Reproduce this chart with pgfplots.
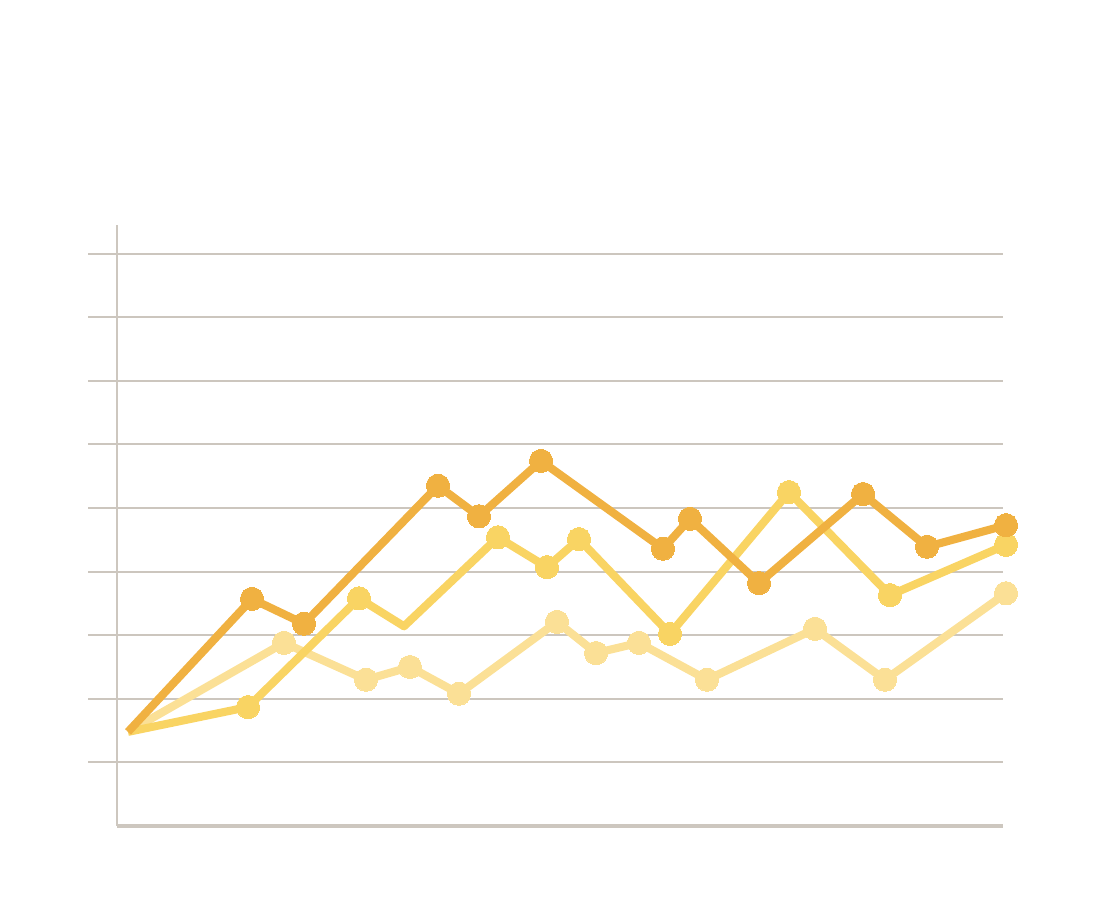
\documentclass[border=0pt]{standalone}
\usepackage{pgfplots}
\pgfplotsset{compat=1.18}

\definecolor{gridgray}{HTML}{CCC6BE}
\definecolor{axisgray}{HTML}{CDC7BF}
\definecolor{darkorange}{HTML}{F0B141}
\definecolor{midyellow}{HTML}{F9D463}
\definecolor{lightyellow}{HTML}{FBE096}

\begin{document}
\begin{tikzpicture}
    % page is 1102 x 900 px, 1 px = 0.01 cm
    \useasboundingbox (0,0) rectangle (11.02,9);
    \begin{axis}[
        at={(1.17cm,0.74cm)},
        anchor=south west,
        scale only axis,
        width=8.86cm,
        height=6.01cm,
        xmin=117, xmax=1003,
        ymin=0, ymax=9.45,
        clip=false,
        axis x line*=bottom,
        axis y line*=left,
        x axis line style={draw=axisgray, line width=1.2pt, -},
        y axis line style={draw=axisgray, line width=0.6pt, -},
        xtick=\empty,
        ytick={1,2,3,4,5,6,7,8,9},
        yticklabels={},
        ymajorgrids,
        grid style={draw=gridgray, line width=0.6pt},
        tick align=outside,
        ytick pos=left,
        major tick length=0.29cm,
        every tick/.style={draw=gridgray, line width=0.6pt},
        every axis plot/.append style={line width=2.3pt, line join=round},
    ]
        \addplot[lightyellow, mark=*, mark size=3.3pt,
            mark options={fill=lightyellow, draw=lightyellow, line width=0pt},
            mark indices={2,3,4,5,6,7,8,9,10,11,12}]
            coordinates {(128,1.48) (284,2.88) (366,2.30) (410,2.50) (459,2.08)
                (557,3.21) (596,2.72) (639,2.88) (707,2.30) (815,3.10)
                (885,2.30) (1006,3.66)};
        \addplot[midyellow, mark=*, mark size=3.3pt,
            mark options={fill=midyellow, draw=midyellow, line width=0pt},
            mark indices={2,3,5,6,7,8,9,10,11}]
            coordinates {(128,1.48) (248,1.87) (359,3.58) (404,3.14) (498,4.54)
                (547,4.07) (579,4.51) (670,3.02) (789,5.25) (890,3.63)
                (1006,4.42)};
        \addplot[darkorange, mark=*, mark size=3.3pt,
            mark options={fill=darkorange, draw=darkorange, line width=0pt},
            mark indices={2,3,4,5,6,7,8,9,10,11,12}]
            coordinates {(128,1.48) (252,3.57) (304,3.18) (438,5.35) (479,4.87)
                (541,5.74) (663,4.36) (690,4.83) (759,3.82) (863,5.22)
                (927,4.39) (1006,4.73)};
    \end{axis}
\end{tikzpicture}
\end{document}
